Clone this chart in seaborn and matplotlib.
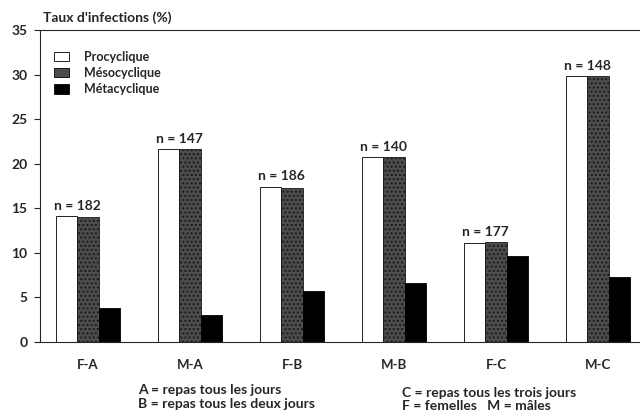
import pandas as pd
import matplotlib.pyplot as plt
import seaborn as sns

# Seaborn style
sns.set_style("ticks")
plt.rcParams["font.family"] = ["Lato", "DejaVu Sans"]

# ======================================
#           DATA
# ======================================
groups = ["F-A", "M-A", "F-B", "M-B", "F-C", "M-C"]
stages = ["Procyclique", "Mésocyclique", "Métacyclique"]
procyclique = [14.1, 21.6, 17.4, 20.7, 11.1, 29.8]
mesocyclique = [14.0, 21.6, 17.3, 20.7, 11.2, 29.8]
metacyclique = [3.8, 3.0, 5.7, 6.6, 9.6, 7.3]
n_values = [182, 147, 186, 140, 177, 148]

df = pd.DataFrame({
    "Groupe": groups * 3,
    "Stade": [stages[0]] * 6 + [stages[1]] * 6 + [stages[2]] * 6,
    "Taux": procyclique + mesocyclique + metacyclique,
})

# ======================================
#           PLOT
# ======================================
fig = plt.figure(figsize=(6.4, 4.17), dpi=100)
ax = fig.add_axes([0.0625, 0.18, 0.9375, 0.748])

palette = {"Procyclique": "white", "Mésocyclique": "#4d4d4d", "Métacyclique": "black"}
sns.barplot(data=df, x="Groupe", y="Taux", hue="Stade", hue_order=stages,
            palette=palette, width=0.63, gap=0, edgecolor="black", linewidth=0.6,
            ax=ax)

# stippled texture for the mesocyclic bars
for bar in ax.containers[1]:
    bar.set_hatch("....")
    bar.set_edgecolor("#1a1a1a")

# n labels above the pro/meso pair
for i, n in enumerate(n_values):
    p = ax.containers[0][i]
    m = ax.containers[1][i]
    xc = (p.get_x() + m.get_x() + m.get_width()) / 2
    top = max(p.get_height(), m.get_height())
    ax.text(xc, top + 0.5, f"n = {n}", ha="center", va="bottom",
            fontsize=10, fontweight="bold")

ax.set_ylim(0, 35)
ax.set_xlim(-0.47, 5.41)
ax.set_yticks(range(0, 36, 5))
ax.set_xlabel("")
ax.set_ylabel("")
ax.tick_params(axis="y", length=4, width=0.8, labelsize=10, pad=5)
ax.tick_params(axis="x", length=0, labelsize=9.5, pad=12)
for lab in ax.get_xticklabels() + ax.get_yticklabels():
    lab.set_fontweight("bold")

ax.spines["right"].set_visible(False)
ax.spines["top"].set_linewidth(0.8)
ax.spines["left"].set_linewidth(0.8)
ax.spines["bottom"].set_linewidth(0.8)

ax.text(0.005, 1.02, "Taux d'infections (%)", transform=ax.transAxes,
        fontsize=10, fontweight="bold", ha="left", va="bottom")

leg = ax.legend(loc="upper left", bbox_to_anchor=(0.005, 0.97), frameon=False,
                handlelength=1.2, handleheight=0.8, handletextpad=1.2,
                labelspacing=0.35, prop={"size": 9, "weight": "bold"})

# footnotes
fig.text(0.216, 0.065, "A = repas tous les jours", fontsize=10,
         fontweight="bold", va="center")
fig.text(0.216, 0.031, "B = repas tous les deux jours", fontsize=10,
         fontweight="bold", va="center")
fig.text(0.628, 0.058, "C = repas tous les trois jours", fontsize=10,
         fontweight="bold", va="center")
fig.text(0.628, 0.026, "F = femelles   M = mâles", fontsize=10,
         fontweight="bold", va="center")

plt.savefig("out.png", dpi=100)
